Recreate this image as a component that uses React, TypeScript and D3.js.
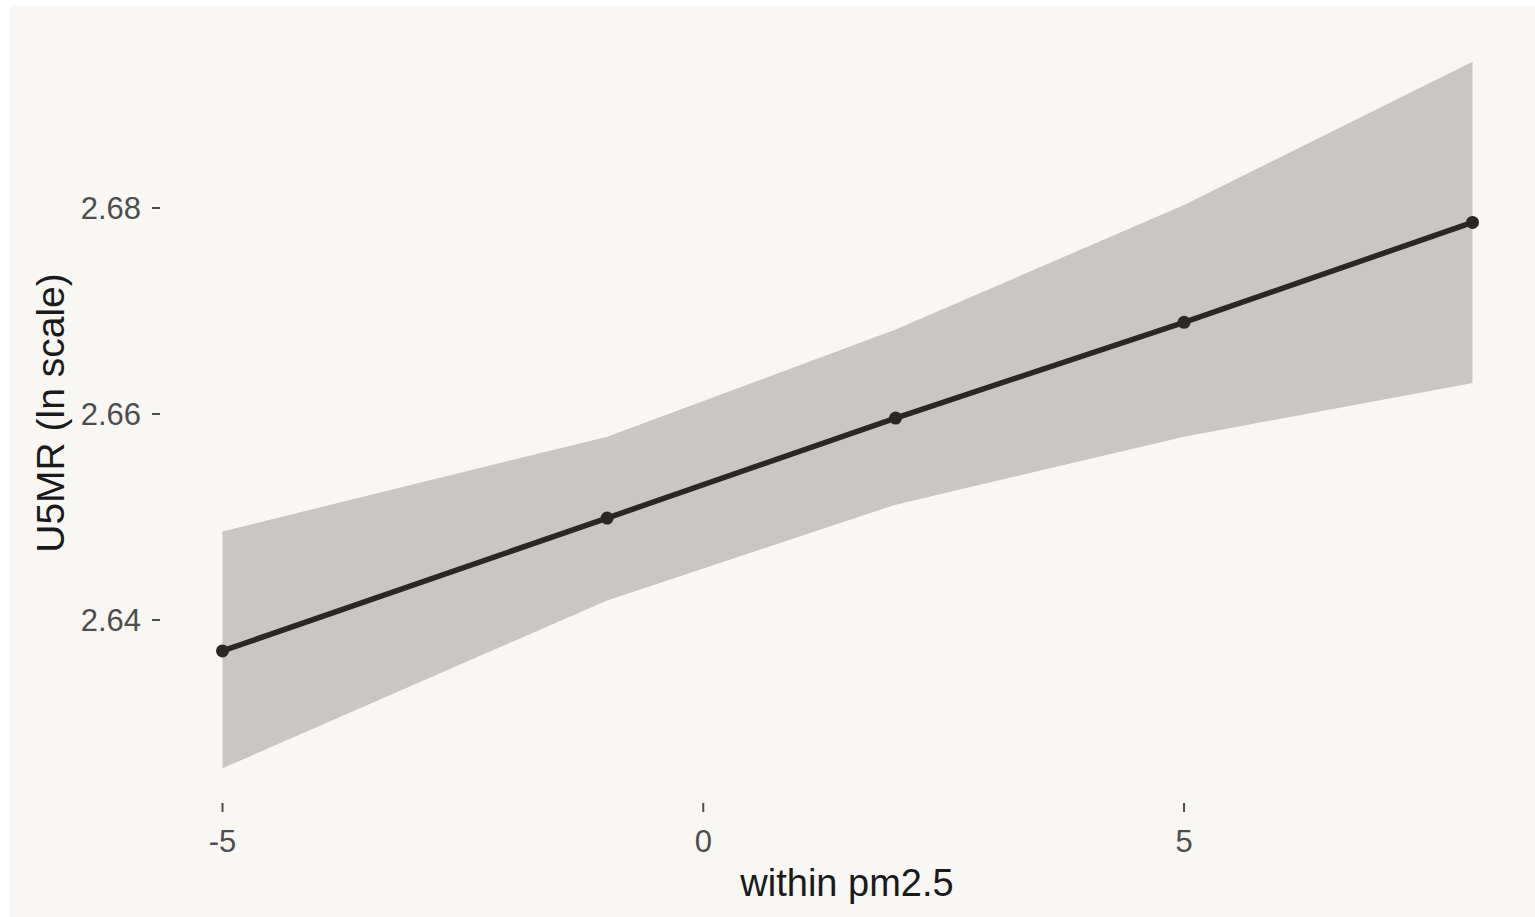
import React from "react";
import * as d3 from "d3";

// fitted values of U5MR (ln scale) against within pm2.5
const xValues = [-5, -1, 2, 5, 8];
const fitValues = [2.637, 2.6499, 2.6596, 2.6689, 2.6786];
const lowerValues = [2.6256, 2.6419, 2.6512, 2.6578, 2.663];
const upperValues = [2.6486, 2.6578, 2.6682, 2.6803, 2.6942];

const xTicks = [-5, 0, 5];
const yTicks = [2.64, 2.66, 2.68];

const width = 1535;
const height = 917;

const App = () => {
  const x = d3.scaleLinear().domain([-5, 8]).range([222.5, 1472.5]);
  const y = d3.scaleLinear().domain([2.64, 2.68]).range([620, 208]);

  const rows = xValues.map((v, i) => ({
    x: v,
    fit: fitValues[i],
    lo: lowerValues[i],
    hi: upperValues[i],
  }));

  const ribbon = d3
    .area<any>()
    .x((d) => x(d.x))
    .y0((d) => y(d.lo))
    .y1((d) => y(d.hi));

  const line = d3
    .line<any>()
    .x((d) => x(d.x))
    .y((d) => y(d.fit));

  const font = "'Liberation Sans', Arial, sans-serif";

  return (
    <svg
      width={width}
      height={height}
      style={{ position: "absolute", left: 0, top: 0, display: "block" }}
    >
      <rect x={0} y={0} width={width} height={height} fill="#ffffff" />
      <rect x={10} y={6} width={width - 10} height={height - 6} fill="#f9f7f4" />

      {/* confidence band */}
      <path d={ribbon(rows) || ""} fill="#c9c7c3" />

      {/* fitted line and points */}
      <path
        d={line(rows) || ""}
        fill="none"
        stroke="#2a2826"
        strokeWidth={5.5}
        strokeLinejoin="round"
      />
      {rows.map((d, i) => (
        <circle key={i} cx={x(d.x)} cy={y(d.fit)} r={6.5} fill="#2a2826" />
      ))}

      {/* y axis */}
      {yTicks.map((t) => (
        <g key={t} transform={`translate(0,${y(t)})`}>
          <line x1={152} x2={160} stroke="#4d4d4d" strokeWidth={2} />
          <text
            x={141}
            dy="0.36em"
            textAnchor="end"
            fontFamily={font}
            fontSize={31}
            fill="#4d4d4d"
          >
            {t.toFixed(2)}
          </text>
        </g>
      ))}

      {/* x axis */}
      {xTicks.map((t) => (
        <g key={t} transform={`translate(${x(t)},0)`}>
          <line y1={803} y2={812} stroke="#4d4d4d" strokeWidth={2} />
          <text
            y={852}
            textAnchor="middle"
            fontFamily={font}
            fontSize={31}
            fill="#4d4d4d"
          >
            {t}
          </text>
        </g>
      ))}

      <text
        x={847}
        y={896}
        textAnchor="middle"
        fontFamily={font}
        fontSize={38}
        fill="#1a1a1a"
      >
        within pm2.5
      </text>
      <text
        transform="translate(64,413) rotate(-90)"
        textAnchor="middle"
        fontFamily={font}
        fontSize={39}
        fill="#1a1a1a"
      >
        U5MR (ln scale)
      </text>
    </svg>
  );
};

export default App;
